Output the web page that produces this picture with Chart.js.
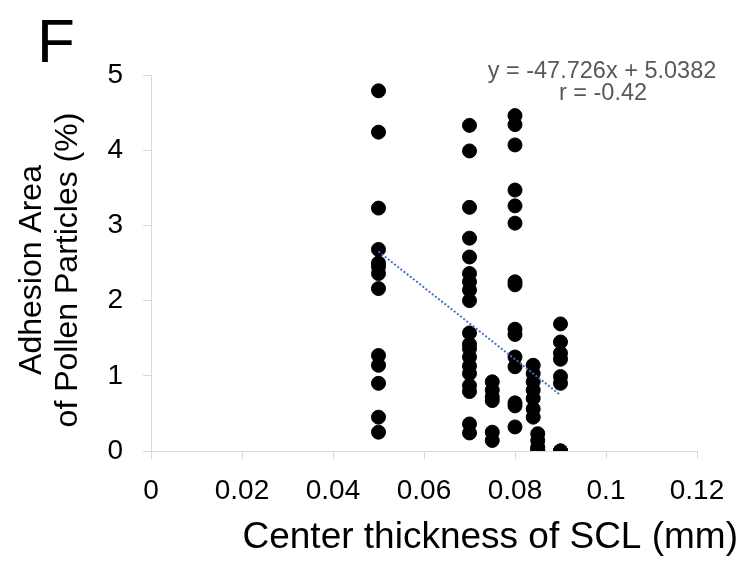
<!DOCTYPE html>
<html>
<head>
<meta charset="utf-8">
<script src="https://cdn.jsdelivr.net/npm/chart.js@4"></script>
<style>
  html, body { margin: 0; padding: 0; background: #fff; }
  canvas { display: block; }
</style>
</head>
<body>
<canvas id="grafico" width="747" height="563"></canvas>
<script>
/* ============================================================
   DATOS
============================================================ */
const THICKNESS = [0.05, 0.07, 0.075, 0.08, 0.084, 0.085, 0.09];

const AREA_050 = [4.79, 4.24, 3.23, 2.68, 2.50, 2.45, 2.36, 2.16, 1.27, 1.14, 0.90, 0.45, 0.25];
const AREA_070 = [4.33, 3.99, 3.24, 2.83, 2.58, 2.36, 2.25, 2.14, 2.00, 1.57, 1.42, 1.36, 1.25, 1.13, 1.03, 0.87, 0.79, 0.36, 0.24];
const AREA_075 = [0.92, 0.81, 0.72, 0.67, 0.25, 0.14];
const AREA_080 = [4.46, 4.34, 4.07, 3.47, 3.26, 3.03, 2.25, 2.21, 1.62, 1.55, 1.25, 1.12, 0.64, 0.60, 0.32];
const AREA_084 = [1.14, 1.03, 0.92, 0.81, 0.70, 0.56, 0.45];
const AREA_085 = [0.23, 0.14, 0.05, 0.02, 0.0];
const AREA_090 = [1.69, 1.45, 1.30, 1.22, 0.99, 0.90, 0.0, 0.0, 0.0];

const AREAS = [AREA_050, AREA_070, AREA_075, AREA_080, AREA_084, AREA_085, AREA_090];

const X_TICKS = [0, 0.02, 0.04, 0.06, 0.08, 0.1, 0.12];
const Y_TICKS = [0, 1, 2, 3, 4, 5];

// línea de tendencia (Excel)
const TREND_SLOPE = -47.726;
const TREND_INTERCEPT = 5.0382;
const TREND_LABEL = "y = -47.726x + 5.0382";
const R_LABEL = "r = -0.42";

const X_TITLE = "Center thickness of SCL (mm)";
const Y_TITLE = ["Adhesion Area", "of Pollen Particles (%)"];
const PANEL = "F";

/* ============================================================
   PUNTOS
============================================================ */
const puntos = [];
THICKNESS.forEach((x, i) => {
    for (const y of AREAS[i]) puntos.push({ x, y });
});

const xMin = Math.min(...THICKNESS);
const xMax = Math.max(...THICKNESS);
const tendencia = [
    { x: xMin, y: TREND_SLOPE * xMin + TREND_INTERCEPT },
    { x: xMax, y: TREND_SLOPE * xMax + TREND_INTERCEPT }
];

const FONT = "'Liberation Sans', Arial, sans-serif";

/* ============================================================
   TEXTOS (título, ejes, ecuación)
============================================================ */
const textos = {
    id: "textos",
    afterDraw(chart) {
        const ctx = chart.ctx;
        ctx.save();
        ctx.fillStyle = "#000";

        // letra del panel
        ctx.font = "62px " + FONT;
        ctx.textAlign = "left";
        ctx.textBaseline = "alphabetic";
        ctx.fillText(PANEL, 37, 62);

        // título eje X
        ctx.font = "37px " + FONT;
        ctx.textAlign = "right";
        ctx.textBaseline = "middle";
        ctx.fillText(X_TITLE, 738, 538);

        // título eje Y (dos líneas)
        ctx.save();
        ctx.translate(0, 270);
        ctx.rotate(-Math.PI / 2);
        ctx.font = "32px " + FONT;
        ctx.textAlign = "center";
        ctx.textBaseline = "middle";
        ctx.fillText(Y_TITLE[0], 0, 32);
        ctx.fillText(Y_TITLE[1], 0, 68);
        ctx.restore();

        // ecuación
        ctx.fillStyle = "#595959";
        ctx.font = "23.5px " + FONT;
        ctx.textAlign = "center";
        ctx.textBaseline = "middle";
        ctx.fillText(TREND_LABEL, 602, 72);
        ctx.fillText(R_LABEL, 603, 94);

        ctx.restore();
    }
};

/* ============================================================
   GRÁFICO
============================================================ */
new Chart(document.getElementById("grafico"), {
    type: "scatter",
    data: {
        datasets: [
            {
                type: "line",
                data: tendencia,
                borderColor: "#4472C4",
                borderWidth: 2,
                borderDash: [2, 2],
                pointRadius: 0,
                fill: false,
                order: 0
            },
            {
                data: puntos,
                backgroundColor: "#000",
                borderColor: "#000",
                pointRadius: 7,
                pointHoverRadius: 7,
                order: 1
            }
        ]
    },
    options: {
        responsive: false,
        animation: false,
        devicePixelRatio: 1,
        layout: { padding: { left: 0, right: 50, top: 75, bottom: 0 } },
        plugins: { legend: { display: false }, tooltip: { enabled: false } },
        scales: {
            x: {
                type: "linear",
                min: X_TICKS[0],
                max: X_TICKS[X_TICKS.length - 1],
                afterFit: s => { s.height = 112; },
                afterBuildTicks: s => { s.ticks = X_TICKS.map(v => ({ value: v })); },
                grid: { drawOnChartArea: false, drawTicks: true, tickLength: 8, color: "#d9d9d9" },
                border: { color: "#d9d9d9", width: 1 },
                ticks: {
                    color: "#000",
                    font: { family: FONT, size: 28 },
                    padding: 15,
                    maxRotation: 0,
                    callback: v => String(+Number(v).toFixed(2))
                }
            },
            y: {
                type: "linear",
                min: Y_TICKS[0],
                max: Y_TICKS[Y_TICKS.length - 1],
                afterFit: s => { s.width = 151; },
                afterBuildTicks: s => { s.ticks = Y_TICKS.map(v => ({ value: v })); },
                grid: { drawOnChartArea: false, drawTicks: true, tickLength: 8, color: "#d9d9d9" },
                border: { color: "#d9d9d9", width: 1 },
                ticks: {
                    color: "#000",
                    font: { family: FONT, size: 28 },
                    padding: 20,
                    callback: v => String(v)
                }
            }
        }
    },
    plugins: [textos]
});
</script>
</body>
</html>
